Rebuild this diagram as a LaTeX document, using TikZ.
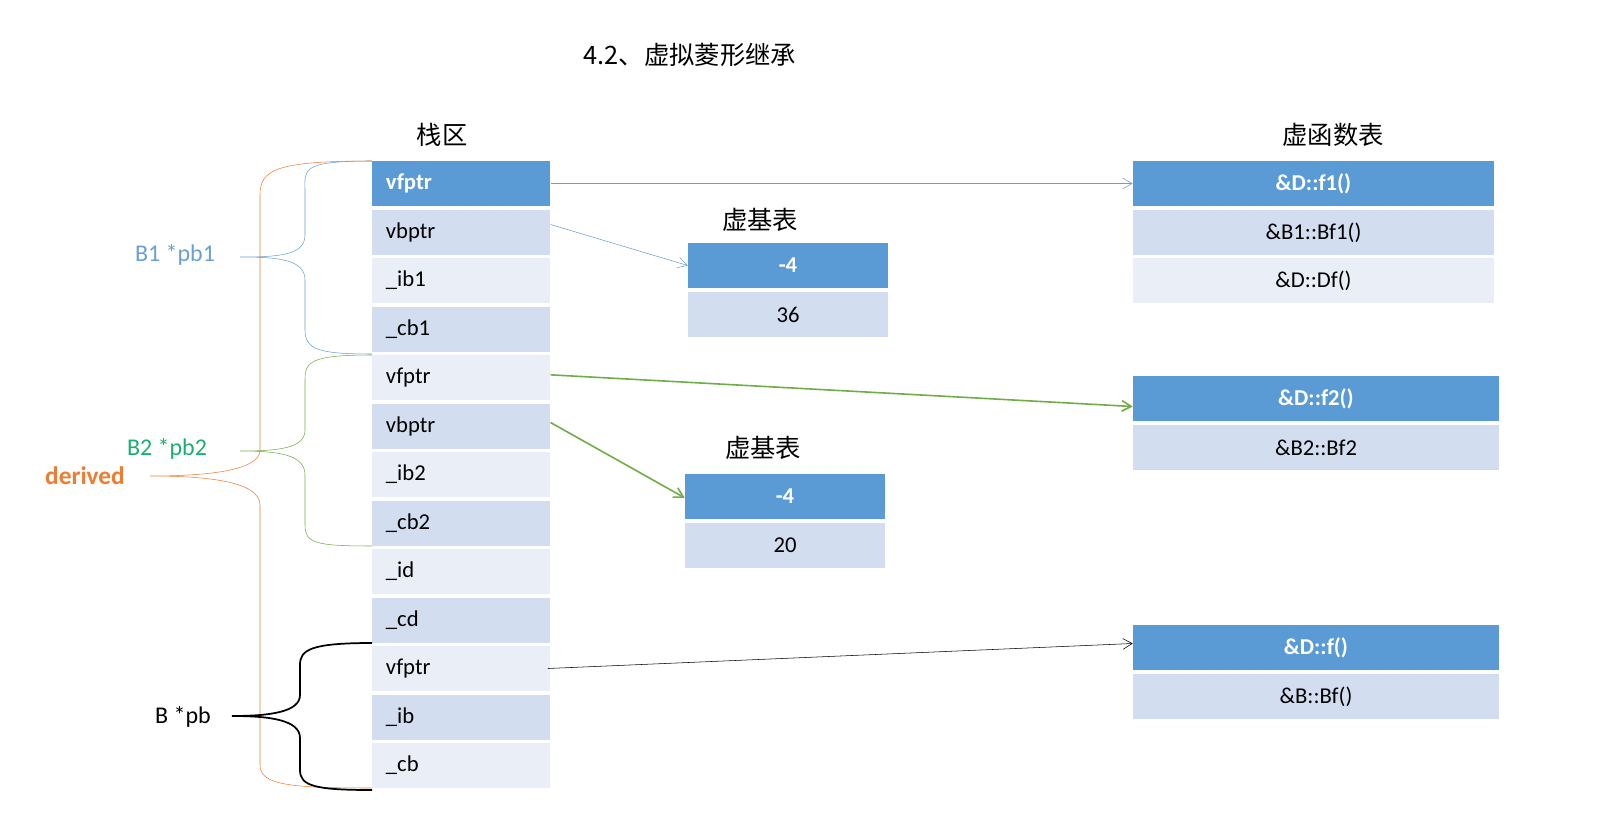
\documentclass[tikz,border=0pt]{standalone}
\usepackage{fontspec}
\setmainfont{Carlito}
\newfontfamily\cjk{Noto Sans CJK SC}
\usetikzlibrary{arrows.meta}
\definecolor{hd}{HTML}{5B9BD5}
\definecolor{ld}{HTML}{D2DEEF}
\definecolor{ll}{HTML}{EAEFF7}
\definecolor{bl}{HTML}{6A9FD0}
\definecolor{gr}{HTML}{70AD47}
\definecolor{og}{HTML}{ED7D31}
\definecolor{tg}{HTML}{1AAE6F}
\begin{document}
\begin{tikzpicture}[x=0.75pt,y=-0.75pt,
 cell/.style={draw=none,minimum height=33.75pt,inner sep=0pt,font=\fontsize{17}{20}\selectfont},
 hdc/.style={cell,fill=hd,text=white,font=\fontsize{17}{20}\selectfont\bfseries},
 dk/.style={cell,fill=ld},
 lt/.style={cell,fill=ll},
 st/.style={anchor=west,text width=113pt,inner xsep=8pt,align=left},
 ttl/.style={font=\cjk\fontsize{19}{22}\selectfont},
 arr/.style={-{Straight Barb[length=7pt,width=8pt]}}]
\useasboundingbox (0,0) rectangle (1600,824);
\node[ttl] (title) at (690,55) {4.2{\cjk 、虚拟菱形继承}};
\node[ttl] (stk) at (442,135) {栈区};
\node[ttl] (vft) at (1333,135) {虚函数表};
\node[ttl] (vbt1) at (760,220) {虚基表};
\node[ttl] (vbt2) at (763,448) {虚基表};
% stack
\foreach \n/\t/\y/\s in {s1/vfptr/183.5/hdc, s2/vbptr/232.5/dk, s3/\_ib1/280.5/lt, s4/\_cb1/329.5/dk,
 s5/vfptr/377.5/lt, s6/vbptr/426.5/dk, s7/\_ib2/474.5/lt, s8/\_cb2/523.5/dk, s9/\_id/571.5/lt,
 s10/\_cd/620.5/dk, s11/vfptr/668.5/lt, s12/\_ib/717.5/dk, s13/\_cb/765.5/lt}
 \node[\s,st,minimum width=133.5pt] (\n) at (372,\y) {\t};
% vbtables
\node[hdc,minimum width=150pt] (a1) at (788,265.5) {-4};
\node[dk,minimum width=150pt] (a2) at (788,314.5) {36};
\node[hdc,minimum width=150pt] (b1) at (785,496.5) {-4};
\node[dk,minimum width=150pt] (b2) at (785,545.5) {20};
% vtables
\node[hdc,minimum width=271pt] (v1) at (1313.5,183.5) {\&D::f1()};
\node[dk,minimum width=271pt] (v2) at (1313.5,232.5) {\&B1::Bf1()};
\node[lt,minimum width=271pt] (v3) at (1313.5,280.5) {\&D::Df()};
\node[hdc,minimum width=274.5pt] (w1) at (1316,398.5) {\&D::f2()};
\node[dk,minimum width=274.5pt] (w2) at (1316,447.5) {\&B2::Bf2};
\node[hdc,minimum width=274.5pt] (x1) at (1316,647.5) {\&D::f()};
\node[dk,minimum width=274.5pt] (x2) at (1316,696.5) {\&B::Bf()};
% arrows
\draw[arr,bl] (s1.east) -- (v1.west);
\draw[arr,bl] ([yshift=6pt]s2.east) -- (a1.west);
\draw[arr,gr,line width=1.2pt] ([yshift=2pt]s5.east) -- ([yshift=-6pt]w1.west);
\draw[arr,gr,line width=1.2pt] ([yshift=3pt]s6.east) -- ([yshift=-1pt]b1.west);
\draw[arr,black] ([xshift=-2pt]s11.east) -- ([yshift=3pt]x1.west);
% labels
\node[font=\fontsize{18}{20}\selectfont,text=bl] (lb1) at (175,255) {B1 *pb1};
\node[font=\fontsize{18}{20}\selectfont,text=tg] (lb2) at (167,449) {B2 *pb2};
\node[font=\fontsize{19}{20}\selectfont\bfseries,text=og] (ld) at (85,476) {derived};
\node[font=\fontsize{18}{20}\selectfont] (lb) at (183,717) {B *pb};
% braces
\draw[bl] (372,161) .. controls (300,161) and (305,170) .. (305,190) -- (305,235)
 .. controls (305,255) and (280,257) .. (240,257)
 .. controls (280,257) and (305,260) .. (305,280) -- (305,330)
 .. controls (305,350) and (320,354) .. (372,354);
\draw[gr] (372,355) .. controls (310,355) and (305,362) .. (305,380) -- (305,430)
 .. controls (305,448) and (280,451) .. (240,451)
 .. controls (280,451) and (305,455) .. (305,475) -- (305,525)
 .. controls (305,543) and (315,546) .. (372,546);
\draw[og] (372,161) .. controls (275,161) and (260,170) .. (260,195) -- (260,450)
 .. controls (260,472) and (200,476) .. (150,476)
 .. controls (200,476) and (260,480) .. (260,505) -- (260,765)
 .. controls (260,785) and (290,788) .. (372,788);
\draw[black,line width=1.3pt] (372,643) .. controls (310,643) and (300,650) .. (300,665) -- (300,695)
 .. controls (300,712) and (270,716) .. (232,716)
 .. controls (270,716) and (300,720) .. (300,738) -- (300,770)
 .. controls (300,786) and (315,790) .. (372,790);
\end{tikzpicture}
\end{document}
